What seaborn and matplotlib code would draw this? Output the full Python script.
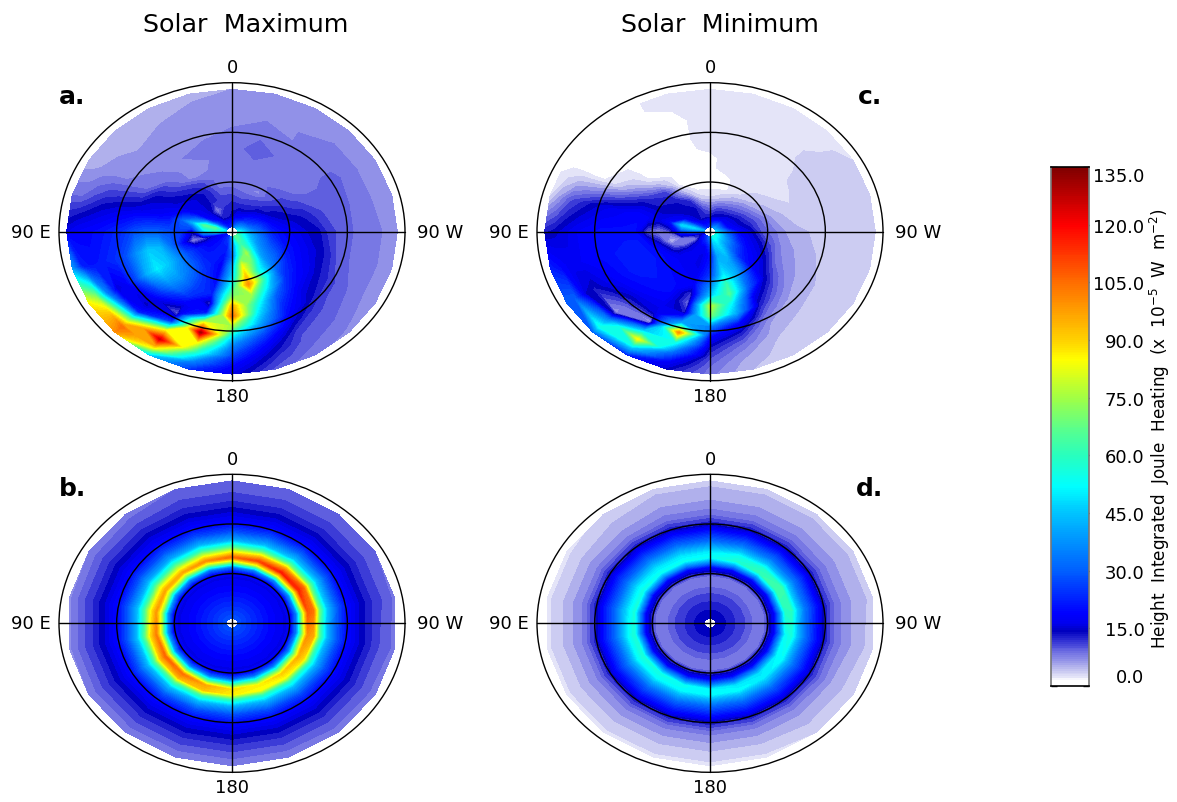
"""Joule heating polar maps: solar maximum / minimum, four panels plus colour bar."""
import numpy as np
import matplotlib.pyplot as plt
import seaborn as sns
from matplotlib.colors import LinearSegmentedColormap, Normalize
from matplotlib.patches import Circle

W, H = 1177, 803
VMAX = 135.0

# colat rows of the upper maps (deg from pole), one table line per longitude, 15 deg apart
COLAT_TOP = [3, 9, 15, 21, 27, 33, 39, 45, 51, 57, 63, 69, 75, 81, 86]
ANGLE_TOP = list(range(0, 360, 15))

PANEL_A = [
    [25, 14, 13, 11, 9, 8.5, 8.5, 8, 8, 8, 7.5, 7, 7, 6.5, 6],
    [30, 18, 13, 10, 8, 8.5, 8.5, 9, 10, 9, 8, 7.5, 7, 6.5, 6],
    [35, 20, 13, 11, 7, 8.5, 8.5, 8.5, 8.5, 8, 7.5, 7.5, 7, 6.5, 6],
    [40, 24, 16, 12, 10, 10, 7.5, 8.5, 8.5, 8, 8, 8, 7.5, 7, 6.5],
    [45, 27, 20, 14, 13, 11, 10, 9, 9, 9.5, 9.5, 8, 7.5, 7, 6.5],
    [50, 32, 25, 18, 15, 14, 13, 11, 10, 9.5, 9, 8, 7.5, 7, 6.5],
    [58, 40, 30, 22, 19, 17, 15, 14, 11, 10, 9, 8.5, 8, 7, 6.5],
    [60, 45, 34, 26, 21, 19, 17, 15, 13, 10, 9, 8.5, 8, 7, 6.5],
    [62, 50, 38, 32, 28, 22, 19, 17, 14, 12, 10, 9, 8, 7, 6.5],
    [65, 58, 50, 40, 36, 30, 24, 20, 16, 14, 11, 10, 9, 8, 7],
    [65, 62, 75, 66, 55, 60, 45, 30, 24, 20, 15, 11, 10, 9, 8],
    [55, 50, 60, 82, 90, 100, 75, 60, 50, 40, 28, 20, 15, 12, 10],
    [40, 35, 30, 40, 45, 55, 70, 95, 105, 75, 50, 35, 26, 19, 16],
    [30, 22, 20, 18, 18, 20, 22, 11, 22, 85, 130, 85, 60, 35, 24],
    [25, 22, 22, 22, 24, 26, 26, 24, 16, 9, 25, 85, 125, 85, 45],
    [22, 20, 20, 22, 28, 34, 38, 36, 26, 17, 14, 22, 70, 105, 100],
    [20, 18, 18, 22, 28, 38, 46, 50, 42, 28, 18, 15, 35, 75, 85],
    [22, 15, 10, 7, 20, 32, 44, 46, 38, 28, 24, 22, 20, 22, 38],
    [50, 55, 45, 15, 26, 28, 30, 30, 28, 24, 22, 20, 19, 18, 16],
    [45, 65, 65, 42, 30, 20, 18, 17, 16, 15, 14, 13, 11, 9, 9],
    [35, 30, 20, 18, 16, 15, 14, 13, 9, 8, 7.5, 7, 6.5, 5.5, 5],
    [25, 18, 15, 15, 15, 13, 10, 8, 7.5, 7, 7, 6, 5.5, 5, 5],
    [22, 13, 7, 13, 13, 11, 6, 7, 7.5, 7, 7, 6.5, 6, 6, 6],
    [22, 13, 12, 11, 9, 8.5, 8, 7.5, 8, 7.5, 7, 7, 6.5, 6, 6],
]

PANEL_C = [
    [25, 13, 8, 3, 1, 1, 1, 1, 2, 2.5, 2.5, 2.5, 2.5, 2.5, 2.5],
    [30, 15, 10, 4, 1, 1, 2.5, 2.5, 2.5, 2.5, 2.5, 2.5, 2.5, 2.5, 2.5],
    [35, 16, 11, 6, 2.5, 2.5, 2.5, 2.5, 2.5, 2.5, 2.5, 2.5, 2.5, 2.5, 2.5],
    [40, 18, 12, 8, 4, 3, 2.5, 2.5, 2.5, 2.5, 3, 3, 2.5, 2.5, 2.5],
    [40, 18, 14, 10, 6, 4, 3, 2.5, 3.5, 4, 4, 4, 4, 3.5, 3],
    [45, 20, 15, 12, 9, 6, 4.5, 3.5, 3.5, 4, 4, 4, 4, 3.5, 3],
    [50, 30, 19, 15, 10, 8, 6, 5, 4.5, 4, 4, 4, 4, 4, 3],
    [55, 35, 22, 17, 14, 10, 7, 6, 5, 4.5, 4, 4, 4, 3.5, 3],
    [55, 40, 28, 20, 17, 14, 9, 7, 6, 5, 4.5, 4, 4, 3.5, 3],
    [55, 42, 32, 24, 20, 18, 15, 11, 8, 6, 5, 4, 4, 3.5, 3],
    [55, 48, 45, 40, 40, 35, 30, 17, 13, 9, 6, 5, 4, 4, 3.5],
    [50, 45, 40, 45, 50, 62, 65, 50, 42, 20, 13, 9, 6.5, 5, 4.5],
    [35, 25, 20, 22, 25, 35, 45, 78, 70, 35, 20, 14, 11, 9, 8],
    [30, 18, 16, 16, 17, 18, 11, 9, 13, 40, 100, 55, 32, 18, 14],
    [25, 18, 17, 17, 18, 19, 20, 19, 17, 15, 5, 45, 85, 45, 22],
    [22, 15, 16, 17, 19, 20, 21, 20, 18, 14, 9, 6, 35, 55, 30],
    [20, 7, 8, 12, 19, 21, 22, 22, 20, 18, 16, 13, 15, 30, 30],
    [15, 12, 8, 4, 14, 20, 22, 22, 21, 20, 19, 18, 17, 19, 22],
    [30, 30, 25, 10, 7, 10, 20, 20, 20, 20, 19, 18, 16, 14, 13],
    [40, 48, 48, 20, 16, 18, 19, 18, 17, 16, 14, 12, 10, 6, 2.5],
    [30, 25, 18, 15, 14, 13, 12, 9, 5.5, 3, 1.5, 1, 1, 1, 1],
    [25, 16, 14, 14, 13, 11, 5, 1.5, 1, 1, 1, 1, 1, 1, 1],
    [22, 13, 14, 12, 5, 1.2, 1, 1, 1, 1, 1, 1, 1, 1, 1],
    [22, 13, 10, 4, 1, 1, 1, 1, 1, 1, 1, 1, 1.5, 2.5, 2.5],
]

# lower maps, one line per longitude, 20 deg apart
ANGLE_LOW = list(range(0, 360, 20))
COLAT_B = [3, 10, 20, 28, 31, 34, 37, 40, 43, 46, 50, 55, 60, 66, 72, 79, 86]
COLAT_D = [3, 8, 13, 18, 23, 28, 31, 34, 37, 40, 43, 46, 50, 55, 60, 66, 72, 79, 86]

PANEL_B = [
    [28, 24, 19, 16, 18, 32, 72, 105, 85, 65, 42, 28, 20, 15.5, 12.5, 10.5, 9.5],
    [28, 24, 19, 16, 18, 34, 78, 110, 90, 66, 43, 29, 20, 15.5, 12.5, 10.5, 9.5],
    [28, 24, 19, 16, 18, 36, 82, 116, 98, 70, 45, 30, 20, 15.5, 12.5, 10.5, 9.5],
    [28, 24, 19, 16, 18, 36, 80, 115, 105, 72, 46, 30, 20, 15.5, 12.5, 10.5, 9],
    [28, 24, 19, 16, 18, 34, 74, 108, 104, 70, 45, 30, 20, 15.5, 12.5, 10.5, 8.5],
    [28, 24, 19, 16, 18, 34, 70, 100, 96, 66, 43, 29, 20, 15.5, 12.5, 10, 8.5],
    [28, 24, 19, 16, 18, 34, 68, 95, 88, 62, 42, 28, 20, 15.5, 12.5, 10, 8],
    [28, 24, 19, 16, 18, 34, 66, 90, 84, 60, 42, 28, 20, 15.5, 12.5, 10, 8],
    [28, 24, 19, 16, 18, 32, 62, 86, 84, 60, 42, 28, 20, 15.5, 12.5, 10, 7.5],
    [28, 24, 19, 16, 18, 30, 60, 88, 86, 62, 42, 28, 20, 15.5, 12.5, 10, 7.5],
    [28, 24, 19, 16, 18, 32, 64, 96, 92, 64, 43, 28, 20, 15.5, 12.5, 10, 7.5],
    [28, 24, 19, 16, 18, 34, 70, 104, 94, 66, 44, 29, 20, 15.5, 12.5, 10, 7.5],
    [28, 24, 19, 16, 18, 36, 74, 106, 92, 66, 44, 29, 20, 15.5, 12.5, 10, 7.5],
    [28, 24, 19, 16, 18, 38, 76, 102, 88, 66, 44, 29, 20, 15.5, 12.5, 10, 7],
    [28, 24, 19, 16, 18, 38, 75, 98, 84, 64, 43, 29, 20, 15.5, 12.5, 10, 7],
    [28, 24, 19, 16, 18, 36, 72, 96, 82, 62, 42, 28, 20, 15.5, 12.5, 10, 7.5],
    [28, 24, 19, 16, 18, 34, 70, 96, 80, 62, 41, 28, 20, 15.5, 12.5, 10, 8],
    [28, 24, 19, 16, 18, 32, 70, 100, 82, 63, 42, 28, 20, 15.5, 12.5, 10.5, 9],
]

PANEL_D = [
    [14.5, 13.5, 12, 10.5, 8.5, 7.5, 12.5, 18, 36, 53, 50, 42, 31, 22, 13, 8.5, 6.5, 5, 4],
    [14.5, 13.5, 12, 10.5, 8.5, 7.5, 12.5, 18, 38, 57, 54, 44, 32, 22, 13, 8.5, 6.5, 5, 4],
    [14.5, 13.5, 12, 10.5, 8.5, 7.5, 12.5, 18, 38, 61, 58, 45, 33, 23, 13, 8.5, 6.5, 5, 4],
    [14.5, 13.5, 12, 10.5, 8.5, 7.5, 12.5, 18, 38, 63, 62, 46, 33, 23, 13, 8.5, 6.5, 5, 4],
    [14.5, 13.5, 12, 10.5, 8.5, 7.5, 12.5, 18, 36, 59, 60, 46, 33, 23, 13, 8.5, 6.5, 5, 4],
    [14.5, 13.5, 12, 10.5, 8.5, 7.5, 12.5, 18, 34, 53, 56, 44, 32, 22, 13, 8.5, 6.5, 5, 3.5],
    [14.5, 13.5, 12, 10.5, 8.5, 7.5, 12.5, 18, 34, 51, 52, 42, 31, 22, 13, 8.5, 6, 4.5, 3],
    [14.5, 13.5, 12, 10.5, 8.5, 7.5, 12.5, 18, 34, 49, 50, 42, 31, 22, 13, 8, 6, 4.5, 3],
    [14.5, 13.5, 12, 10.5, 8.5, 7.5, 12.5, 18, 32, 49, 52, 42, 31, 22, 13, 8, 6, 4, 2.5],
    [14.5, 13.5, 12, 10.5, 8.5, 7.5, 12.5, 18, 32, 51, 52, 42, 31, 22, 13, 8, 6, 4, 2.5],
    [14.5, 13.5, 12, 10.5, 8.5, 7.5, 12.5, 18, 34, 53, 52, 42, 31, 22, 13, 8, 6, 4, 2.5],
    [14.5, 13.5, 12, 10.5, 8.5, 7.5, 12.5, 18, 36, 55, 52, 42, 31, 22, 13, 8, 6, 4, 2.5],
    [14.5, 13.5, 12, 10.5, 8.5, 7.5, 12.5, 18, 36, 57, 52, 42, 31, 22, 13, 8, 6, 4, 2.5],
    [14.5, 13.5, 12, 10.5, 8.5, 7.5, 12.5, 18, 36, 57, 52, 42, 31, 22, 13, 8, 6, 4, 2.5],
    [14.5, 13.5, 12, 10.5, 8.5, 7.5, 12.5, 18, 36, 56, 50, 42, 31, 22, 13, 8, 6, 4, 2.5],
    [14.5, 13.5, 12, 10.5, 8.5, 7.5, 12.5, 18, 36, 55, 50, 42, 31, 22, 13, 8, 6, 4, 2.5],
    [14.5, 13.5, 12, 10.5, 8.5, 7.5, 12.5, 18, 36, 53, 49, 42, 31, 22, 13, 8, 6, 4.5, 3.5],
    [14.5, 13.5, 12, 10.5, 8.5, 7.5, 12.5, 18, 36, 53, 49, 42, 31, 22, 13, 8.5, 6.5, 5, 4],
]

CBAR_TICKS = [0, 15, 30, 45, 60, 75, 90, 105, 120, 135]
CMAP_VALUES = [0, 1.5, 2.25, 3.75, 5.25, 6.75, 8.25, 9.75, 11.25, 12.75, 14.25, 16, 19, 30, 45, 52,
               60, 67, 75, 85, 90, 105, 120, 135]
CMAP_COLORS = ["#ffffff", "#ffffff", "#e4e4f8", "#ccccf2", "#b0b0ec", "#9191e8", "#7878e4", "#5a5ade",
               "#3c3cd7", "#1e1ecd", "#0000be", "#0000eb", "#0000ff", "#005fff", "#00c3ff", "#00ffff",
               "#28ffbe", "#5aff8c", "#a0ff46", "#ffff00", "#ffd200", "#ff6e00", "#ff0000", "#800000"]


def make_cmap():
    stops = [v / VMAX for v in CMAP_VALUES]
    return LinearSegmentedColormap.from_list("joule", list(zip(stops, CMAP_COLORS)), N=540)


def pixel_axes(fig, left, top, right, bottom):
    return fig.add_axes([left / W, 1 - bottom / H, (right - left) / W, (bottom - top) / H])


def draw_map(fig, cx, cy, angles, colats, table, letter, letter_x, cmap, norm):
    ax = pixel_axes(fig, cx - 173, cy - 149, cx + 173, cy + 149)
    theta = np.deg2rad(list(angles) + [360])
    values = np.array(table, dtype=float)
    values = np.vstack([values, values[:1]])  # close the ring
    tt, rr = np.meshgrid(theta, colats, indexing="ij")
    ax.contourf(rr * np.sin(tt), rr * np.cos(tt), values, levels=np.arange(0, VMAX + 1.5, 1.5),
                cmap=cmap, norm=norm)
    for colat in [30, 60, 90]:
        ax.add_patch(Circle((0, 0), colat, fill=False, edgecolor="black", lw=1.0, clip_on=False))
    ax.plot([-90, 90], [0, 0], color="black", lw=1.0, clip_on=False)
    ax.plot([0, 0], [-90, 90], color="black", lw=1.0, clip_on=False)
    ax.set_xlim(-90, 90)
    ax.set_ylim(-90, 90)
    ax.axis("off")
    ax.text(0, 99.5, "0", ha="center", va="center", fontsize=13)
    ax.text(0, -99, "180", ha="center", va="center", fontsize=13)
    ax.text(-94.5, 0, "90 E", ha="right", va="center", fontsize=13)
    ax.text(96.5, 0, "90 W", ha="left", va="center", fontsize=13)
    ax.text(letter_x, 82, letter, ha="center", va="center", fontsize=18, fontweight="bold")
    return ax


def draw_colorbar(fig, cmap):
    ax = pixel_axes(fig, 1051, 168, 1089, 687)
    column = np.arange(0.25, VMAX, 0.5).reshape(-1, 1)
    sns.heatmap(column, ax=ax, cmap=cmap, vmin=0, vmax=VMAX, cbar=False, xticklabels=False, rasterized=True)
    ax.set_ylim(0, len(column))
    ax.set_yticks([t / 0.5 for t in CBAR_TICKS])
    ax.yaxis.tick_right()
    labels = ax.set_yticklabels([f"{t:.1f}" for t in CBAR_TICKS], rotation=0, ha="right", fontsize=13)
    labels[0].set_va("bottom")
    labels[-1].set_va("top")
    ax.tick_params(axis="y", direction="in", left=True, right=True, length=4, width=1, pad=40,
                   colors="black")
    for name, spine in ax.spines.items():
        spine.set_visible(True)
        spine.set_color("black" if name in ("top", "bottom") else "#777777")
        spine.set_linewidth(1.2)
    fig.text(1160 / W, 1 - 429 / H, "Height  Integrated  Joule  Heating  (x  10$^{-5}$  W  m$^{-2}$)",
             rotation=90, ha="center", va="center", fontsize=12.2)


def main():
    sns.set_theme(style="white")
    plt.rcParams["font.family"] = ["DejaVu Sans"]
    plt.rcParams["mathtext.default"] = "regular"
    plt.rcParams["text.color"] = "black"
    cmap = make_cmap()
    norm = Normalize(0, VMAX)
    fig = plt.figure(figsize=(W / 100, H / 100), dpi=100)

    draw_map(fig, 232, 232.7, ANGLE_TOP, COLAT_TOP, PANEL_A, "a.", -83, cmap, norm)
    draw_map(fig, 232, 624.3, ANGLE_LOW, COLAT_B, PANEL_B, "b.", -83, cmap, norm)
    draw_map(fig, 710, 232.7, ANGLE_TOP, COLAT_TOP, PANEL_C, "c.", 83, cmap, norm)
    draw_map(fig, 710, 624.3, ANGLE_LOW, COLAT_D, PANEL_D, "d.", 83, cmap, norm)
    draw_colorbar(fig, cmap)

    fig.text(246 / W, 1 - 25 / H, "Solar  Maximum", ha="center", va="center", fontsize=18.3)
    fig.text(720 / W, 1 - 25 / H, "Solar  Minimum", ha="center", va="center", fontsize=18.3)
    fig.savefig("out.png", dpi=100, facecolor="white")


if __name__ == "__main__":
    main()
